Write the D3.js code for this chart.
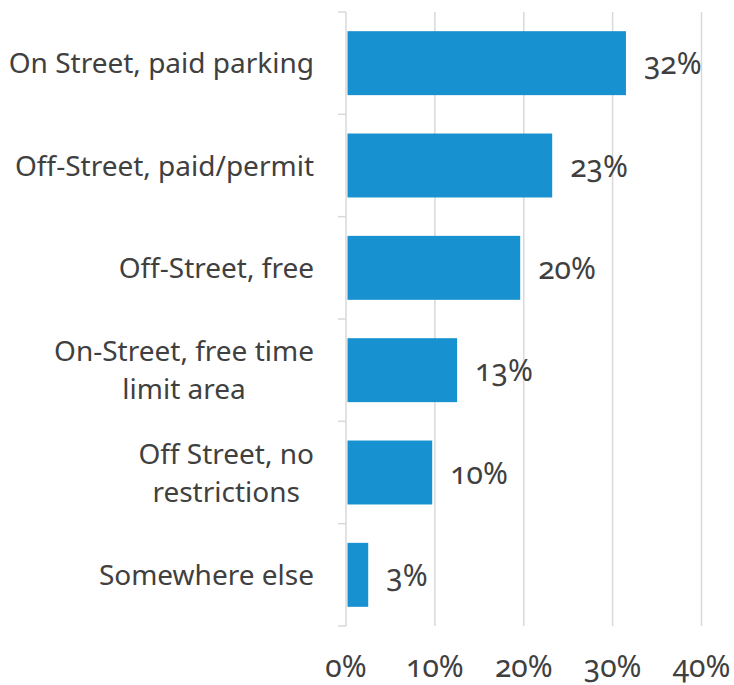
<!DOCTYPE html>
<html>
<head>
<meta charset="utf-8">
<script src="https://cdn.jsdelivr.net/npm/d3@7"></script>
<style>
  html, body { margin: 0; padding: 0; background: #ffffff; }
  svg { display: block; }
  text { font-family: "Noto Sans", "Open Sans", sans-serif; fill: #404040; font-variant-numeric: oldstyle-nums; font-feature-settings: "onum" 1; }
</style>
</head>
<body>
<svg id="chart" width="734" height="685"></svg>
<script>
const categories = [
  "On Street, paid parking",
  "Off-Street, paid/permit",
  "Off-Street, free",
  "On-Street, free time limit area",
  "Off Street, no restrictions",
  "Somewhere else"
];
const categoryLines = [
  ["On Street, paid parking"],
  ["Off-Street, paid/permit"],
  ["Off-Street, free"],
  ["On-Street, free time", "limit area"],
  ["Off Street, no", "restrictions"],
  ["Somewhere else"]
];
const values = [31.5, 23.2, 19.6, 12.5, 9.7, 2.5];
const tickValues = [0, 10, 20, 30, 40];

const svg = d3.select("#chart");
const fontSize = 28;
const numSize = 30;
const x = d3.scaleLinear().domain([0, 40]).range([346, 701.5]);
const y = d3.scaleBand().domain(categories).range([12, 626]).paddingInner(0.375).paddingOuter(0.1875);
const step = y.step();
const gridColor = "#d9d9d9";

// gridlines
svg.append("g").selectAll("line").data(tickValues.filter(d => d > 0)).join("line")
  .attr("x1", d => x(d)).attr("x2", d => x(d))
  .attr("y1", 12).attr("y2", 626)
  .attr("stroke", gridColor).attr("stroke-width", 1.5);

// bars
svg.append("g").selectAll("rect").data(values).join("rect")
  .attr("x", x(0) + 1.5)
  .attr("y", (d, i) => y(categories[i]))
  .attr("width", d => x(d) - x(0) - 1.5)
  .attr("height", y.bandwidth())
  .attr("fill", "#1791cf");

// category axis line and ticks
svg.append("line").attr("x1", x(0)).attr("x2", x(0)).attr("y1", 12).attr("y2", 626)
  .attr("stroke", gridColor).attr("stroke-width", 1.5);
svg.append("g").selectAll("line").data(d3.range(categories.length + 1)).join("line")
  .attr("x1", x(0) - 8).attr("x2", x(0))
  .attr("y1", i => 12 + i * step).attr("y2", i => 12 + i * step)
  .attr("stroke", gridColor).attr("stroke-width", 1.5);

// category labels
const lineGap = 38;
const labelRight = 314;
categoryLines.forEach((lines, i) => {
  const cy = y(categories[i]) + y.bandwidth() / 2;
  const g = svg.append("g");
  const texts = lines.map((ln, j) => g.append("text")
    .attr("font-size", fontSize)
    .attr("y", cy + 10 + (j - (lines.length - 1) / 2) * lineGap)
    .text(ln));
  const maxW = d3.max(texts, t => t.node().getComputedTextLength());
  texts.forEach(t => t.attr("x", labelRight - maxW / 2).attr("text-anchor", "middle"));
});

// data labels
svg.append("g").selectAll("text").data(values).join("text")
  .attr("x", d => x(d) + 18)
  .attr("y", (d, i) => y(categories[i]) + y.bandwidth() / 2 + 11)
  .attr("font-size", numSize)
  .text(d => Math.round(d) + "%");

// x tick labels
svg.append("g").selectAll("text").data(tickValues).join("text")
  .attr("x", d => x(d))
  .attr("y", 677)
  .attr("text-anchor", "middle")
  .attr("font-size", numSize)
  .text(d => d + "%");
</script>
</body>
</html>
